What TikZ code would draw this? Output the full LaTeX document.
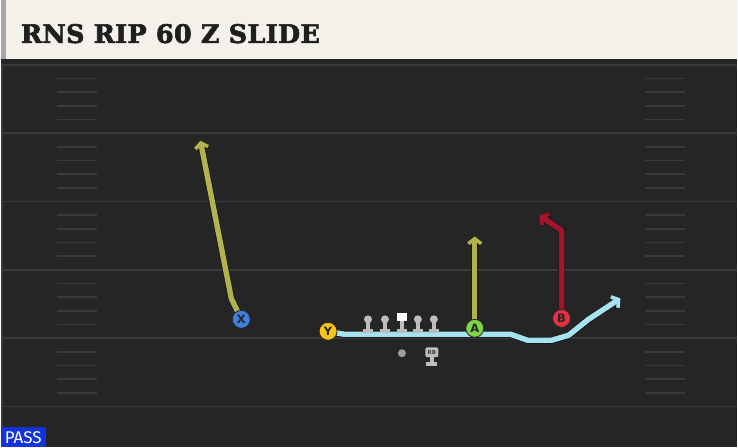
\documentclass[tikz,border=0pt]{standalone}
\usepackage{fontspec}
\setmainfont{DejaVu Sans}
\newfontfamily\titlefont{DejaVu Serif}[FakeBold=2.5,LetterSpace=1.5]
\newfontfamily\tagfont{Fira Sans}
\usetikzlibrary{arrows.meta,positioning,calc}
\definecolor{fieldGray}{HTML}{252525}
\definecolor{lineGray}{HTML}{3A3A3A}
\definecolor{barCream}{HTML}{F3F1EA}
\definecolor{routeOlive}{HTML}{B3B24F}
\definecolor{routeRed}{HTML}{A4142C}
\definecolor{routeBlue}{HTML}{A6E3F0}
\definecolor{manGray}{HTML}{BDBDBD}
\definecolor{passBlue}{HTML}{1333DD}

\begin{document}
\begin{tikzpicture}[x=1pt,y=-1pt,
    player/.style={circle,draw=black!85,line width=.8pt,minimum size=18pt,inner sep=0pt,
      font=\bfseries\fontsize{11.5}{11.5}\selectfont,text=black!85},
    route/.style={line width=5.4pt,line join=round,
      -{Straight Barb[length=5pt,width=13pt,line width=3.6pt]},
      preaction={draw=black!90,line width=7pt,
      -{Straight Barb[length=5pt,width=13pt,line width=5pt]}}}]

  % draw the field and the title bar
  \fill[fieldGray] (0,0) rectangle (738,448);
  \fill[black!85] (0,59) rectangle (738,63);
  \fill[lineGray] (0,63) rectangle (2,448);
  \fill[barCream] (0,0) rectangle (738,59);
  \fill[gray!70] (0,0) rectangle (5,59);
  \node[anchor=base west,inner sep=0pt,font=\titlefont\bfseries\fontsize{25.5}{25.5}\selectfont,
    text=black!88] (title) at (20,43) {RNS RIP 60 Z SLIDE};

  % draw the yard lines
  \foreach \yl in {0,...,5}
    \draw[lineGray,line width=1.6pt] (0,{65+68.5*\yl}) -- (738,{65+68.5*\yl});

  % draw the hash marks
  \foreach \yl in {0,...,4}
    \foreach \h in {1,...,4}
    {
      \draw[lineGray,line width=1.6pt] (56,{65+68.5*\yl+13.7*\h}) -- (96,{65+68.5*\yl+13.7*\h});
      \draw[lineGray,line width=1.6pt] (646,{65+68.5*\yl+13.7*\h}) -- (686,{65+68.5*\yl+13.7*\h});
    }

  % the players that run a route
  \node[player,fill={rgb,255:red,66;green,125;blue,224}] (X) at (241,320) {X};
  \node[player,fill={rgb,255:red,246;green,197;blue,24}] (Y) at (328,332) {Y};
  \node[player,fill={rgb,255:red,128;green,210;blue,72}] (A) at (475,329) {A};
  \node[player,fill={rgb,255:red,229;green,48;blue,64}] (B) at (562,319) {B};

  % draw the routes
  \coordinate (xbreak) at (231,299);
  \coordinate (xend) at (200,141);
  \coordinate (aend) at (475,237);
  \coordinate (bbreak) at (562,231);
  \coordinate (bend) at (540,216);
  \draw[route,routeOlive] (X.center) -- (xbreak) -- (xend);
  \draw[route,routeOlive] (A.center) -- (aend);
  \draw[route,routeRed] (B.center) -- (bbreak) -- (bend);
  \draw[route,routeBlue] (Y.center) -- (344,335) -- (511,335) -- (528,341) -- (552,341)
    -- (569,336) -- (589,320) -- (621,299);

  % redraw the players over their routes
  \node[player,fill={rgb,255:red,66;green,125;blue,224}] at (X) {X};
  \node[player,fill={rgb,255:red,246;green,197;blue,24}] at (Y) {Y};
  \node[player,fill={rgb,255:red,128;green,210;blue,72}] at (A) {A};
  \node[player,fill={rgb,255:red,229;green,48;blue,64}] at (B) {B};

  % draw the offensive line
  \foreach \x in {368,385,418,434}
  {
    \fill[manGray] (\x,320) circle [radius=4];
    \fill[manGray] (\x-1.8,320) rectangle (\x+1.8,331);
    \fill[manGray] (\x-4.8,330) rectangle (\x+4.8,334);
  }
  \fill[white] (397,314) rectangle (407,322);
  \fill[manGray] (400.2,322) rectangle (403.8,331);
  \fill[manGray] (397.2,330) rectangle (406.8,334);

  % quarterback and running back
  \fill[gray!75] (402,354) circle [radius=4];
  \fill[manGray] (430.2,357) rectangle (433.8,364);
  \fill[manGray] (426.5,363) rectangle (437.5,367);
  \node[fill=manGray,rounded corners=2pt,minimum width=13pt,minimum height=10pt,inner sep=0pt,
    font=\bfseries\fontsize{5.5}{5.5}\selectfont,text=black!75] (RB) at (432,353) {RB};

  % play type tag
  \fill[passBlue] (0,428) rectangle (45,448);
  \node[anchor=base,inner sep=0pt,font=\tagfont\fontsize{17}{17}\selectfont,text=white]
    (pass) at (22.5,444.5) {PASS};

  \useasboundingbox (0,0) rectangle (738,448);
\end{tikzpicture}
\end{document}
